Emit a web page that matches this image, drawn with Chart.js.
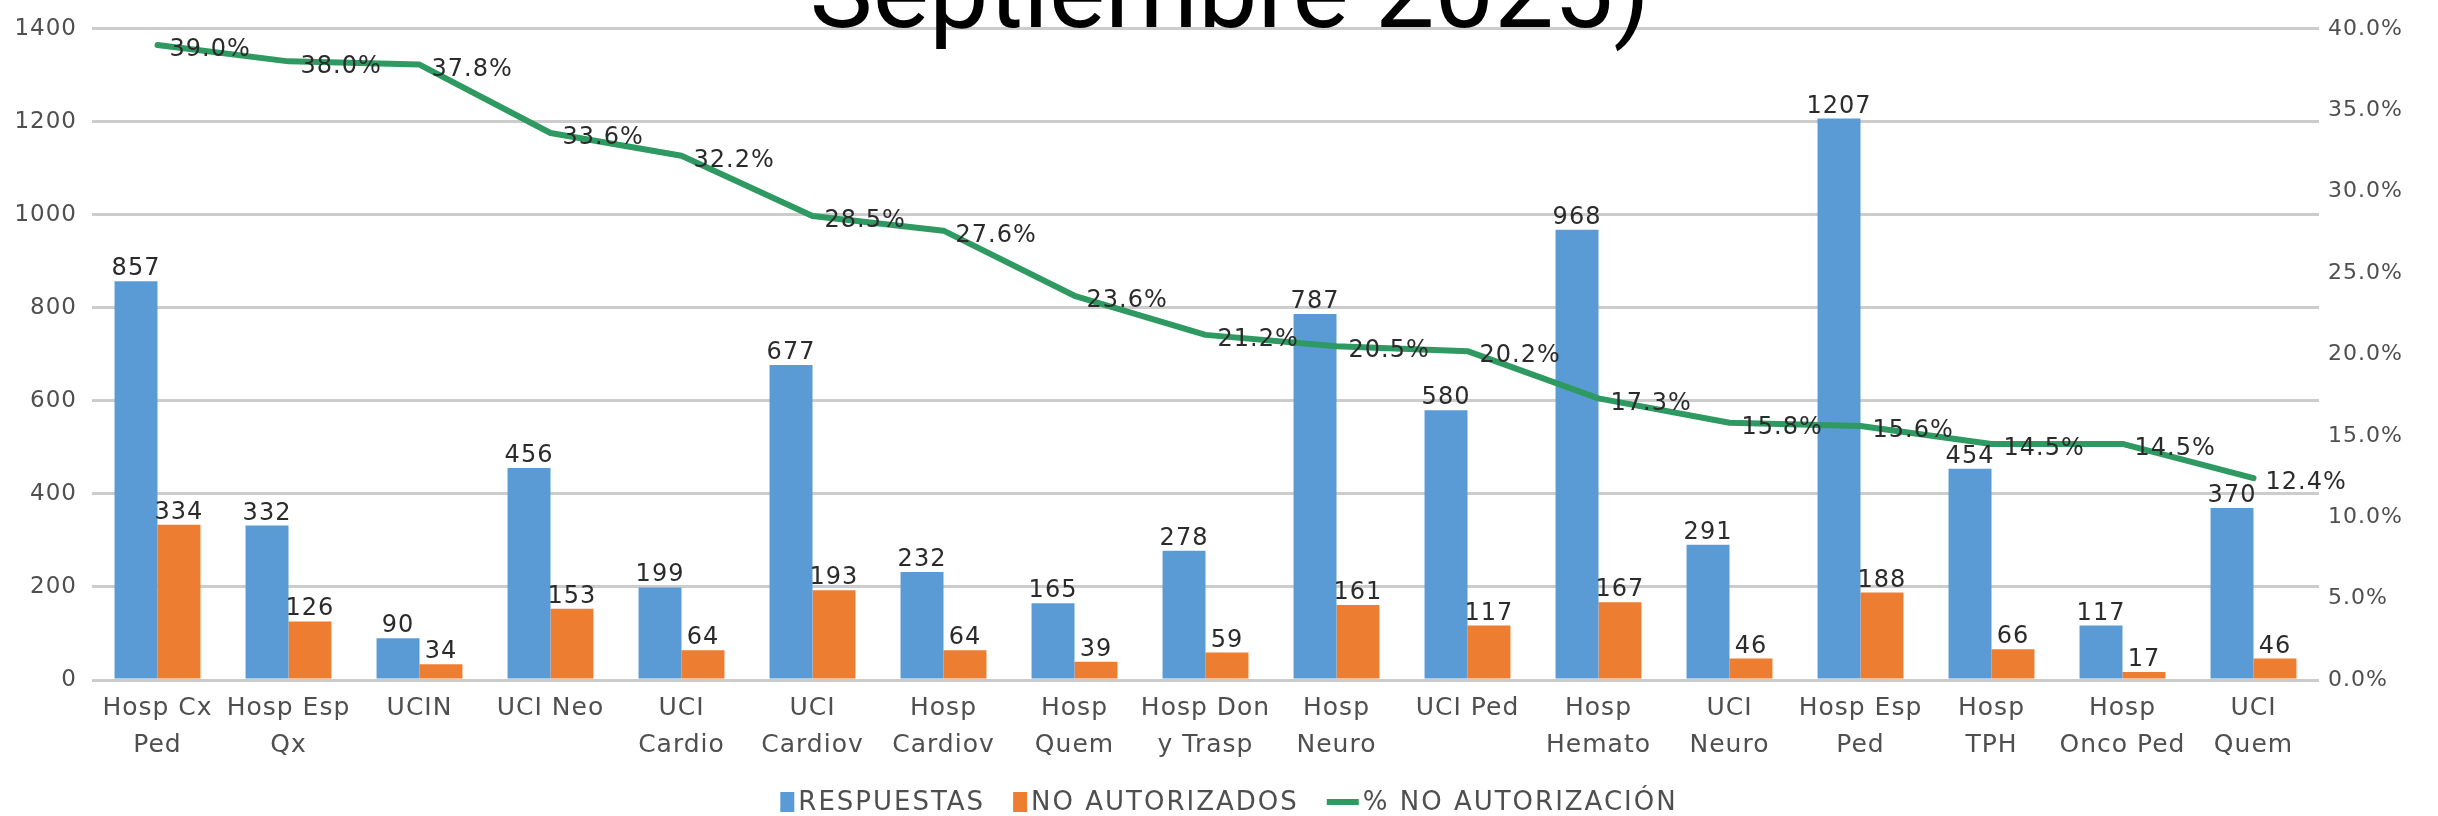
<!DOCTYPE html>
<html>
<head>
<meta charset="utf-8">
<script src="https://cdn.jsdelivr.net/npm/chart.js@4.4.1/dist/chart.umd.min.js"></script>
<style>
  html, body { margin: 0; padding: 0; background: #ffffff; }
  #wrap { width: 2438px; height: 816px; position: relative; }
</style>
</head>
<body>
<div id="wrap"><canvas id="c" width="2438" height="816"></canvas></div>
<script>
// ---- data ----
const categories = [
  ['Hosp Cx', 'Ped'], ['Hosp Esp', 'Qx'], 'UCIN', 'UCI Neo', ['UCI', 'Cardio'],
  ['UCI', 'Cardiov'], ['Hosp', 'Cardiov'], ['Hosp', 'Quem'], ['Hosp Don', 'y Trasp'],
  ['Hosp', 'Neuro'], 'UCI Ped', ['Hosp', 'Hemato'], ['UCI', 'Neuro'], ['Hosp Esp', 'Ped'],
  ['Hosp', 'TPH'], ['Hosp', 'Onco Ped'], ['UCI', 'Quem']
];
const respuestas = [857, 332, 90, 456, 199, 677, 232, 165, 278, 787, 580, 968, 291, 1207, 454, 117, 370];
const noAutorizados = [334, 126, 34, 153, 64, 193, 64, 39, 59, 161, 117, 167, 46, 188, 66, 17, 46];
const pctNoAutorizacion = [39.0, 38.0, 37.8, 33.6, 32.2, 28.5, 27.6, 23.6, 21.2, 20.5, 20.2, 17.3, 15.8, 15.6, 14.5, 14.5, 12.4];
const leftTickValues = [0, 200, 400, 600, 800, 1000, 1200, 1400];
const rightTickValues = [0, 5, 10, 15, 20, 25, 30, 35, 40];
const seriesNames = ['RESPUESTAS', 'NO AUTORIZADOS', '% NO AUTORIZACIÓN'];
const titleText = 'Septiembre 2025)';

// ---- styles ----
const BLUE = '#5B9BD5', ORANGE = '#ED7D31', GREEN = '#2E9A62';
const FONT = '"DejaVu Sans", sans-serif';
const TICK_COLOR = '#4f4f4f';
const LABEL_COLOR = '#2b2b2b';

const spacingPlugin = {
  id: 'spacing',
  beforeUpdate(chart) { try { chart.ctx.letterSpacing = '1px'; } catch (e) {} },
  beforeDraw(chart) { try { chart.ctx.letterSpacing = '1px'; } catch (e) {} }
};

const dataLabelPlugin = {
  id: 'dataLabels',
  afterDatasetsDraw(chart) {
    const ctx = chart.ctx;
    ctx.save();
    ctx.fillStyle = LABEL_COLOR;
    ctx.font = '24px ' + FONT;
    chart.data.datasets.forEach((ds, di) => {
      const meta = chart.getDatasetMeta(di);
      meta.data.forEach((el, i) => {
        const v = ds.data[i];
        if (ds.type === 'line') {
          ctx.textAlign = 'left';
          ctx.textBaseline = 'middle';
          ctx.fillText(v.toFixed(1) + '%', el.x + 12, el.y + 5);
        } else {
          ctx.textAlign = 'center';
          ctx.textBaseline = 'alphabetic';
          ctx.fillText(String(v), el.x, el.y - 6);
        }
      });
    });
    ctx.restore();
  }
};

const legendTitlePlugin = {
  id: 'legendTitle',
  afterDraw(chart) {
    const ctx = chart.ctx;
    ctx.save();
    // title (partly cut off at top, as in the reference)
    try { ctx.letterSpacing = '0px'; } catch (e) {}
    ctx.fillStyle = '#000000';
    ctx.font = '106px Roboto, "Open Sans", sans-serif';
    ctx.textAlign = 'center';
    ctx.textBaseline = 'alphabetic';
    ctx.fillText(titleText, 1230, 27);

    // legend
    ctx.font = '26px ' + FONT;
    try { ctx.letterSpacing = '2px'; } catch (e) {}
    const items = chart.data.datasets.map(ds => ({
      label: ds.label,
      color: ds.type === 'line' ? ds.borderColor : ds.backgroundColor,
      line: ds.type === 'line'
    }));
    const markW = it => it.line ? 32 : 14;
    const gapMT = 4, gapItems = 28;
    let total = 0;
    items.forEach((it, i) => {
      total += markW(it) + gapMT + ctx.measureText(it.label).width + (i < items.length - 1 ? gapItems : 0);
    });
    let x = 1229 - total / 2;
    const y = 802;
    ctx.textAlign = 'left';
    ctx.textBaseline = 'middle';
    items.forEach(it => {
      if (it.line) {
        ctx.strokeStyle = it.color;
        ctx.lineWidth = 6;
        ctx.beginPath();
        ctx.moveTo(x, y);
        ctx.lineTo(x + markW(it), y);
        ctx.stroke();
      } else {
        ctx.fillStyle = it.color;
        ctx.fillRect(x, y - 10, markW(it), 20);
      }
      x += markW(it) + gapMT;
      ctx.fillStyle = TICK_COLOR;
      ctx.fillText(it.label, x, y + 1);
      x += ctx.measureText(it.label).width + gapItems;
    });
    ctx.restore();
  }
};

new Chart(document.getElementById('c'), {
  type: 'bar',
  data: {
    labels: categories,
    datasets: [
      { type: 'bar', label: seriesNames[0], data: respuestas, backgroundColor: BLUE, yAxisID: 'y', order: 1,
        categoryPercentage: 0.656, barPercentage: 1.0 },
      { type: 'bar', label: seriesNames[1], data: noAutorizados, backgroundColor: ORANGE, yAxisID: 'y', order: 1,
        categoryPercentage: 0.656, barPercentage: 1.0 },
      { type: 'line', label: seriesNames[2], data: pctNoAutorizacion, borderColor: GREEN, backgroundColor: GREEN,
        borderWidth: 6, pointRadius: 0, tension: 0, yAxisID: 'y1', order: 0,
        borderJoinStyle: 'round', borderCapStyle: 'round' }
    ]
  },
  options: {
    responsive: false,
    animation: false,
    layout: { padding: { top: 23, left: 0, right: 0, bottom: 0 } },
    plugins: {
      legend: { display: false },
      title: { display: false },
      tooltip: { enabled: false }
    },
    scales: {
      x: {
        offset: true,
        grid: { display: false, drawTicks: false },
        border: { display: false },
        ticks: {
          color: TICK_COLOR, autoSkip: false, maxRotation: 0, minRotation: 0, padding: 10,
          font: { family: FONT, size: 25, lineHeight: 1.48 }
        },
        afterFit(s) { s.height = 136; }
      },
      y: {
        position: 'left',
        min: 0, max: 1400,
        grid: { color: '#cccccc', lineWidth: 3, drawTicks: false },
        border: { display: false },
        ticks: {
          color: TICK_COLOR, padding: 15, font: { family: FONT, size: 23 },
          callback: v => String(v)
        },
        afterBuildTicks(s) { s.ticks = leftTickValues.map(v => ({ value: v })); },
        afterFit(s) { s.width = 92; }
      },
      y1: {
        position: 'right',
        min: 0, max: 40,
        grid: { display: false, drawTicks: false },
        border: { display: false },
        ticks: {
          color: TICK_COLOR, padding: 9, font: { family: FONT, size: 22 },
          callback: v => Number(v).toFixed(1) + '%'
        },
        afterBuildTicks(s) { s.ticks = rightTickValues.map(v => ({ value: v })); },
        afterFit(s) { s.width = 119; }
      }
    }
  },
  plugins: [spacingPlugin, dataLabelPlugin, legendTitlePlugin]
});
</script>
</body>
</html>
